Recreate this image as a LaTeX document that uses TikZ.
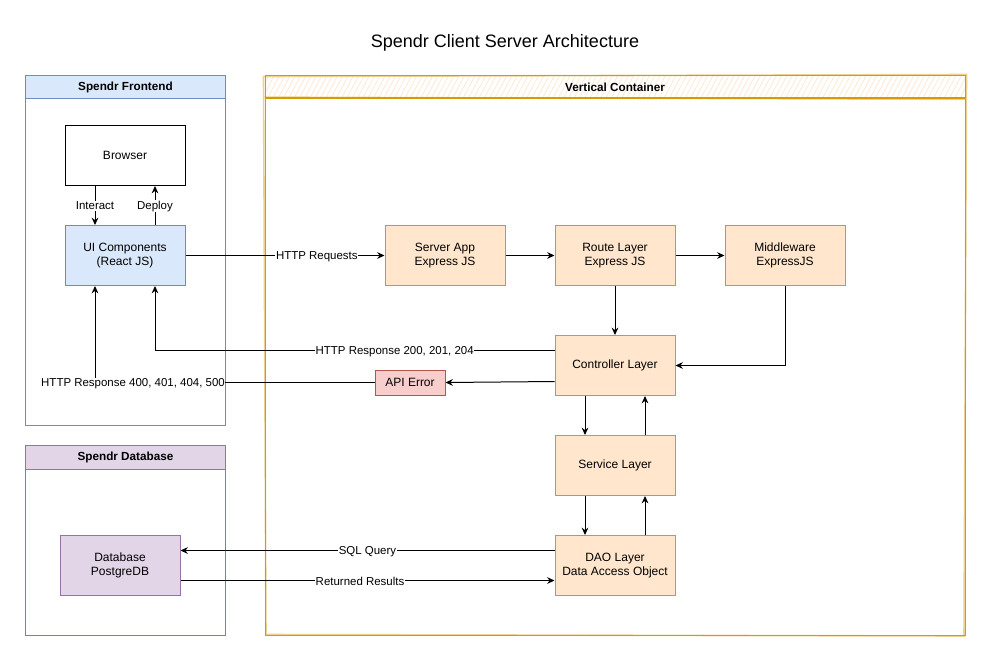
\documentclass[tikz,border=0pt]{standalone}
\usepackage{fontspec}
\setmainfont{Liberation Sans}
\usetikzlibrary{arrows.meta,patterns.meta,positioning}
\definecolor{blueFill}{HTML}{DAE8FC}
\definecolor{blueStroke}{HTML}{6C8EBF}
\definecolor{purpFill}{HTML}{E1D5E7}
\definecolor{purpStroke}{HTML}{9673A6}
\definecolor{orFill}{HTML}{FFE6CC}
\definecolor{orStroke}{HTML}{D79B00}
\definecolor{redFill}{HTML}{F8CECC}
\definecolor{redStroke}{HTML}{B85450}
\tikzset{
  every node/.style={font=\fontsize{9}{11}\selectfont, align=center, inner sep=1pt},
  box/.style={draw, line width=0.75pt, minimum width=90pt, minimum height=45pt},
  bluebox/.style={box, fill=blueFill, draw=blueStroke},
  orbox/.style={box, fill=orFill, draw=orStroke},
  purpbox/.style={box, fill=purpFill, draw=purpStroke},
  arr/.style={-{Stealth[length=5.5pt,width=5pt]}, line width=0.75pt},
  lbl/.style={fill=white, font=\fontsize{8.6}{10}\selectfont, inner sep=0.5pt, yshift=-1pt},
  hdr/.style={font=\bfseries\fontsize{8.8}{10}\selectfont, anchor=north west, line width=0.75pt},
}
\begin{document}
\begin{tikzpicture}[x=0.75pt,y=-0.75pt]
\useasboundingbox[fill=white] (0,0) rectangle (992,661);

% title
\node[font=\fontsize{13.5}{16}\selectfont] (title) at (505,42.5) {Spendr Client Server Architecture};

% frontend container
\node[draw=blueStroke, line width=0.75pt, anchor=north west, minimum width=150pt, minimum height=262.5pt] (fe) at (25,75) {};
\node[hdr, draw=blueStroke, fill=blueFill, minimum width=150pt, minimum height=17.25pt] (feh) at (25,75) {Spendr Frontend};

% database container
\node[draw=purpStroke, line width=0.75pt, anchor=north west, minimum width=150pt, minimum height=142.5pt] (db) at (25,445) {};
\node[hdr, draw=purpStroke, fill=purpFill, minimum width=150pt, minimum height=18pt] (dbh) at (25,445) {Spendr Database};

% vertical container (sketchy)
\node[anchor=north west, minimum width=525pt, minimum height=17.25pt, pattern={Lines[angle=62,distance=3.5pt,line width=0.5pt]}, pattern color=orFill!70!orange!45] (vch) at (265,75) {};
\draw[orStroke!45, line width=1.2pt] (263.5,76.5) -- (966.5,74.5) -- (964,636) -- (266,634.5) -- cycle;
\draw[orStroke!45, line width=1pt] (264,97) -- (966,99.5);
\node[draw=orStroke, line width=0.9pt, anchor=north west, minimum width=525pt, minimum height=420pt] (vc) at (265,75) {};
\draw[orStroke, line width=0.9pt] (vc.north west) ++(0,23) -- ++(700,0);
\node[font=\bfseries\fontsize{8.8}{10}\selectfont] (vct) at (615,87) {Vertical Container};

% nodes
\node[box] (browser) at (125,155.5) {Browser};
\node[bluebox] (ui) at (125,255.5) {UI Components\\(React JS)};
\node[purpbox] (pg) at (120,565.5) {Database\\PostgreDB};
\node[orbox] (srv) at (445,255.5) {Server App\\Express JS};
\node[orbox] (route) at (615,255.5) {Route Layer\\Express JS};
\node[orbox] (mw) at (785,255.5) {Middleware\\ExpressJS};
\node[orbox] (ctrl) at (615,365.5) {Controller Layer};
\node[orbox] (svc) at (615,465.5) {Service Layer};
\node[orbox] (dao) at (615,565.5) {DAO Layer\\Data Access Object};
\node[draw=redStroke, fill=redFill, line width=0.75pt, minimum width=52.5pt, minimum height=18.75pt] (apierr) at (410,382.5) {API Error};

% connectors
\draw[arr] ([xshift=-22.5pt]browser.south) -- node[lbl, pos=0.48] {Interact} ([xshift=-22.5pt]ui.north);
\draw[arr] ([xshift=22.5pt]ui.north) -- node[lbl, pos=0.52] {Deploy} ([xshift=22.5pt]browser.south);
\draw[arr] (ui.east) -- node[lbl, pos=0.66] {HTTP Requests} (srv.west);
\draw[arr] (srv.east) -- (route.west);
\draw[arr] (route.east) -- (mw.west);
\draw[arr] (route.south) -- (ctrl.north);
\draw[arr] (mw.south) |- (ctrl.east);
\draw[arr] ([yshift=11.25pt]ctrl.west) -| node[lbl, pos=0.2] {HTTP Response 200, 201, 204} ([xshift=22.5pt]ui.south);
\draw[arr] ([yshift=-12pt]ctrl.west) -- (apierr.east);
\draw[arr] (apierr.west) -| node[lbl, pos=0.432] {HTTP Response 400, 401, 404, 500} ([xshift=-22.5pt]ui.south);
\draw[arr] ([xshift=-22.5pt]ctrl.south) -- ([xshift=-22.5pt]svc.north);
\draw[arr] ([xshift=22.5pt]svc.north) -- ([xshift=22.5pt]ctrl.south);
\draw[arr] ([xshift=-22.5pt]svc.south) -- ([xshift=-22.5pt]dao.north);
\draw[arr] ([xshift=22.5pt]dao.north) -- ([xshift=22.5pt]svc.south);
\draw[arr] ([yshift=11.25pt]dao.west) -- node[lbl, pos=0.5] {SQL Query} ([yshift=11.25pt]pg.east);
\draw[arr] ([yshift=-11.25pt]pg.east) -- node[lbl, pos=0.48] {Returned Results} ([yshift=-11.25pt]dao.west);
\end{tikzpicture}
\end{document}
